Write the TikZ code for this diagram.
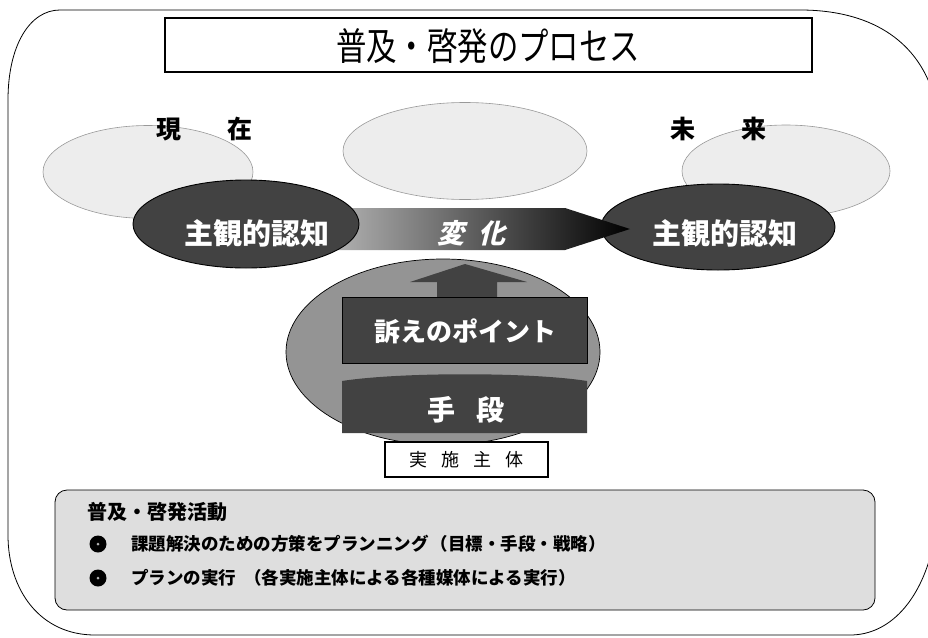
\documentclass[tikz,border=0pt]{standalone}
\usepackage{fontspec}
\usepackage{graphicx}
\setmainfont{Noto Sans CJK JP}
\usetikzlibrary{shapes.geometric}
\definecolor{darkfill}{gray}{0.26}
\definecolor{midfill}{gray}{0.58}
\definecolor{lightfill}{gray}{0.87}
\definecolor{faintfill}{gray}{0.93}
\begin{document}
\begin{tikzpicture}[x=1pt,y=-1pt,
  faintell/.style={ellipse, draw=gray!80, fill=faintfill, line width=0.6pt, inner sep=0pt},
  darkell/.style={ellipse, draw=black, fill=darkfill, line width=0.9pt, inner sep=0pt},
  whitetxt/.style={text=white, font=\bfseries\fontsize{29}{29}\selectfont},
  blacktxt/.style={text=black, font=\bfseries\fontsize{25}{25}\selectfont},
  darkbox/.style={fill=darkfill, draw=black, line width=0.6pt},
  bullet/.style={circle, fill=black, minimum size=17pt, inner sep=0pt},
  bodytxt/.style={anchor=west, font=\bfseries\fontsize{17.5}{17.5}\selectfont, inner sep=0pt}]
\useasboundingbox (0,0) rectangle (928,637);
\fill[white] (0,0) rectangle (928,637);
% outer frame
\draw[line width=0.8pt] (8,100) .. controls (8,45) and (30,10) .. (60,10) -- (800,10)
  .. controls (870,10) and (915,40) .. (932,90) -- (932,550)
  .. controls (920,600) and (890,635) .. (850,635) -- (95,635)
  .. controls (40,635) and (8,590) .. (8,535) -- cycle;
% title
\node (titlebox) [draw, line width=1.5pt, minimum width=647pt, minimum height=54pt, inner sep=0pt] at (488.5,45) {};
\node (title) at (488,46) {\scalebox{0.8}[1]{\fontsize{38}{38}\selectfont 普及・啓発のプロセス}};
% faint ellipses
\node (fl) [faintell, minimum width=210pt, minimum height=93pt] at (148,172) {};
\node (fc) [faintell, minimum width=244pt, minimum height=97pt] at (465,151) {};
\node (fr) [faintell, minimum width=208pt, minimum height=92pt] at (786,171) {};
% labels now / future
\node (now) [blacktxt] at (204,129) {現\hspace{46pt}在};
\node (future) [blacktxt] at (718,129) {未\hspace{46pt}来};
% right dark ellipse
\node (er) [darkell, minimum width=234pt, minimum height=86pt] at (718,227) {};
% change arrow
\shade[left color=gray!45, right color=black] (300,208) -- (565,208) -- (630,229) -- (565,250) -- (300,250) -- cycle;
% left dark ellipse
\node (el) [darkell, minimum width=226pt, minimum height=88pt] at (246,224) {};
\node (tl) [whitetxt] at (257,233) {主観的認知};
\node (tr) [whitetxt] at (725,233) {主観的認知};
\node (change) [text=white, font=\bfseries\fontsize{27}{27}\selectfont, xslant=0.25, transform shape] at (474,233) {変\hspace{14pt}化};
% centre ellipse
\node (ec) [ellipse, draw=black, fill=midfill, line width=0.7pt, minimum width=314pt, minimum height=186pt, inner sep=0pt] at (443,352) {};
% up arrow
\fill[darkfill] (437,298) -- (437,282) -- (410,282) -- (465,264) -- (527,282) -- (497,282) -- (497,298) -- cycle;
% appeal point box
\node (appeal) [darkbox, minimum width=245pt, minimum height=66pt, inner sep=0pt] at (464.5,330) {};
\node [whitetxt, font=\bfseries\fontsize{26}{26}\selectfont] at (465,331) {訴えのポイント};
% means shape
\fill[darkfill] (342,433) -- (342,381) .. controls (400,372) and (530,372) .. (587,381) -- (587,433) -- cycle;
\node (means) [whitetxt, font=\bfseries\fontsize{28}{28}\selectfont] at (466,410) {手\hspace{22pt}段};
% actor box
\node (actor) [draw, fill=white, line width=1.1pt, minimum width=163pt, minimum height=35pt, inner sep=0pt, font=\fontsize{18}{18}\selectfont] at (466.5,459.5) {実\hspace{14pt}施\hspace{14pt}主\hspace{14pt}体};
% bottom box
\node (bottom) [draw, fill=lightfill, rounded corners=12pt, line width=0.8pt, minimum width=820pt, minimum height=120pt, inner sep=0pt] at (465,550) {};
\node (bhead) [bodytxt, font=\bfseries\fontsize{20}{20}\selectfont] at (87,512) {普及・啓発活動};
\node (bul1) [bullet] at (98,544) {};
\node (bul2) [bullet] at (98,578) {};
\fill[gray!60] (bul1.center) circle [radius=1.5];
\fill[gray!60] (bul2.center) circle [radius=1.5];
\node (b1) [bodytxt] at (131,544) {課題解決のための方策をプランニング\hspace{2pt}（目標・手段・戦略）};
\node (b2) [bodytxt] at (131,578) {プランの実行\hspace{8pt}（各実施主体による各種媒体による実行）};
\end{tikzpicture}
\end{document}
